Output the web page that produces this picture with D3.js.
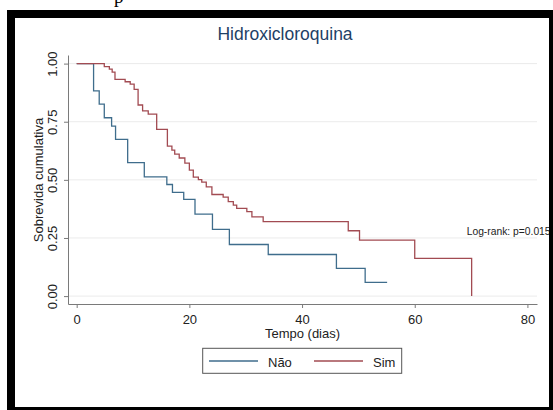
<!DOCTYPE html>
<html>
<head>
<meta charset="utf-8">
<script src="https://cdn.jsdelivr.net/npm/d3@7"></script>
<style>
  body { margin: 0; background: #fff; }
  svg { display: block; }
  text { font-family: "Liberation Sans", Arial, Helvetica, sans-serif; }
</style>
</head>
<body>
<svg id="chart" width="553" height="410"></svg>
<script>
// survival curves (time in days, cumulative survival)
var naoTimes = [0, 3, 4, 4.9, 6.2, 6.9, 9.05, 12, 16, 17, 19, 21, 24.1, 27.1, 34, 46.1, 51.2, 55.1];
var naoSurv  = [1, 0.883, 0.826, 0.767, 0.731, 0.674, 0.574, 0.513, 0.48, 0.446, 0.416, 0.353, 0.287, 0.222, 0.179, 0.119, 0.059, 0.059];

var simTimes = [0, 4.9, 5.8, 6.3, 6.8, 8.6, 9.5, 10.2, 10.9, 11.7, 12.7, 14.2, 16.1, 16.9, 17.4, 18.2, 19.2, 20, 20.7, 21.6, 22.2, 23, 24, 26, 26.9, 27.8, 28.4, 30.2, 31.1, 33.1, 48.2, 50.2, 60, 70.1];
var simSurv  = [1, 0.987, 0.976, 0.963, 0.932, 0.922, 0.912, 0.889, 0.822, 0.797, 0.783, 0.717, 0.645, 0.628, 0.611, 0.594, 0.572, 0.542, 0.512, 0.501, 0.49, 0.47, 0.437, 0.426, 0.406, 0.391, 0.377, 0.363, 0.341, 0.32, 0.281, 0.241, 0.162, 0];

var xTicks = [0, 20, 40, 60, 80];
var yTicks = [0, 0.25, 0.5, 0.75, 1];
var yTickLabels = ["0.00", "0.25", "0.50", "0.75", "1.00"];
var groups = ["Não", "Sim"];
var colors = ["#3f6d8c", "#a24b52"];

var svg = d3.select("#chart");

// black frame around the graph
svg.append("rect").attr("x", 7).attr("y", 10).attr("width", 546).attr("height", 400).attr("fill", "#000");
svg.append("rect").attr("x", 15).attr("y", 18).attr("width", 534).attr("height", 389).attr("fill", "#fff");

// cut-off letter from the page above
svg.append("text").attr("x", 114).attr("y", 3)
    .style("font-family", "'Liberation Serif', 'Times New Roman', serif")
    .style("font-size", "19px").attr("fill", "#000").text("p");

var x = d3.scaleLinear().domain([-1.54, 81.7]).range([68, 537]);
var y = d3.scaleLinear().domain([-0.034, 1.037]).range([304, 55]);

// gridlines
svg.append("g").selectAll("line").data(yTicks).enter().append("line")
    .attr("x1", 68).attr("x2", 537)
    .attr("y1", function(d){ return y(d); }).attr("y2", function(d){ return y(d); })
    .attr("stroke", "#ebebeb").attr("stroke-width", 1);

// X axis
var xAxis = svg.append("g")
    .attr("transform", "translate(0,304)")
    .call(d3.axisBottom(x).tickValues(xTicks).tickSize(4).tickSizeOuter(0).tickFormat(d3.format("d")));
xAxis.selectAll("text").attr("y", 19.5).attr("dy", null)
    .style("font-size", "13px").attr("fill", "#222");

// Y axis
var yAxis = svg.append("g")
    .attr("transform", "translate(68,0)")
    .call(d3.axisLeft(y).tickValues(yTicks).tickSize(4).tickSizeOuter(0)
        .tickFormat(function(d, i){ return yTickLabels[i]; }));
yAxis.selectAll("text")
    .attr("transform", "rotate(-90)")
    .attr("x", 0).attr("y", -11).attr("dy", null)
    .attr("text-anchor", "middle")
    .style("font-size", "13px").attr("fill", "#222");

svg.selectAll(".domain, .tick line").attr("stroke", "#7a7a7a");

// axis titles and title
svg.append("text").attr("x", 302.5).attr("y", 337.5).attr("text-anchor", "middle")
    .style("font-size", "13px").attr("fill", "#222").text("Tempo (dias)");
svg.append("text").attr("transform", "translate(43,180) rotate(-90)").attr("text-anchor", "middle")
    .style("font-size", "13px").attr("fill", "#222").text("Sobrevida cumulativa");
svg.append("text").attr("x", 285).attr("y", 40).attr("text-anchor", "middle")
    .style("font-size", "17.5px").attr("fill", "#1e3f66").text("Hidroxicloroquina");

// step curves
var line = d3.line()
    .x(function(d){ return x(d[0]); })
    .y(function(d){ return y(d[1]); })
    .curve(d3.curveStepAfter);

var series = [d3.zip(naoTimes, naoSurv), d3.zip(simTimes, simSurv)];
svg.append("g").selectAll("path").data(series).enter().append("path")
    .attr("d", line)
    .attr("fill", "none")
    .attr("stroke", function(d, i){ return colors[i]; })
    .attr("stroke-width", 1.3);

// log-rank note
svg.append("text").attr("x", 466.7).attr("y", 235)
    .style("font-size", "10.3px").attr("fill", "#222").text("Log-rank: p=0.015");

// legend
var lg = svg.append("g");
lg.append("rect").attr("x", 202.7).attr("y", 348.3).attr("width", 199).attr("height", 25)
    .attr("fill", "#fff").attr("stroke", "#555").attr("stroke-width", 1);
var lx = [209, 314];
var it = lg.selectAll("g.item").data(groups).enter().append("g").attr("class", "item");
it.append("line")
    .attr("x1", function(d, i){ return lx[i]; })
    .attr("x2", function(d, i){ return lx[i] + 49; })
    .attr("y1", 361).attr("y2", 361)
    .attr("stroke", function(d, i){ return colors[i]; }).attr("stroke-width", 1.3);
it.append("text")
    .attr("x", function(d, i){ return lx[i] + 59; })
    .attr("y", 366.5)
    .style("font-size", "13px").attr("fill", "#222")
    .text(function(d){ return d; });

// keep the frame edge on top of overflowing text
svg.append("rect").attr("x", 549).attr("y", 10).attr("width", 4).attr("height", 400).attr("fill", "#000");
</script>
</body>
</html>
